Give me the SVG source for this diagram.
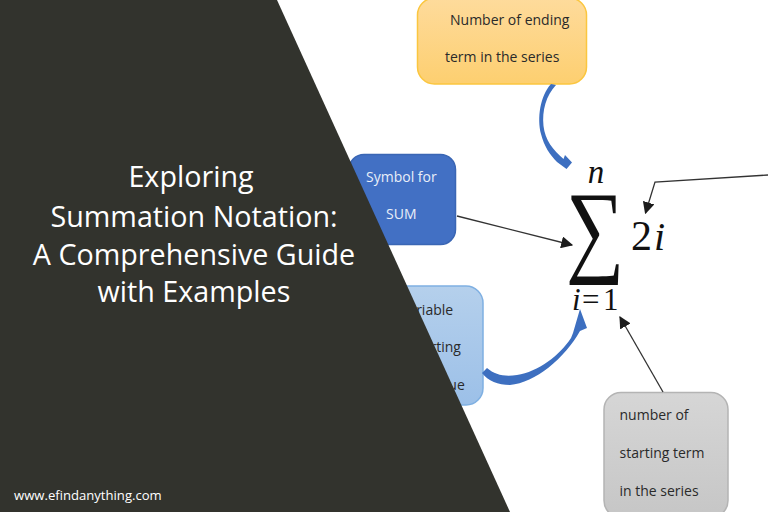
<svg xmlns="http://www.w3.org/2000/svg" width="768" height="512" viewBox="0 0 768 512">
<defs>
<linearGradient id="orange" x1="0" y1="0" x2="0" y2="1"><stop offset="0" stop-color="#fedb9c"/><stop offset="1" stop-color="#fdcf70"/></linearGradient>
<linearGradient id="lblue" x1="0" y1="0" x2="0" y2="1"><stop offset="0" stop-color="#b5d0ec"/><stop offset="1" stop-color="#9cc0e8"/></linearGradient>
<linearGradient id="grey" x1="0" y1="0" x2="0" y2="1"><stop offset="0" stop-color="#d6d6d6"/><stop offset="1" stop-color="#c6c6c6"/></linearGradient>
<marker id="arr" viewBox="0 0 10 10" refX="9" refY="5" markerWidth="12" markerHeight="12" markerUnits="userSpaceOnUse" orient="auto"><path d="M0 0L10 5L0 10Z" fill="#1c1c1c"/></marker>
</defs>
<style>
text{font-family:"Open Sans","Noto Sans",sans-serif}
.l{font-size:14px;fill:#2a2a2a}
.w{font-size:14px;fill:#e8eef8}
.m{font-family:"Liberation Serif","DejaVu Serif",serif;fill:#111}
.c{fill:none;stroke:#333;stroke-width:1.300}
.t{font-size:28.700px;fill:#fff;text-anchor:middle}
</style>
<rect width="768" height="512" fill="#fff"/>
<g id="node-ending">
<rect x="417.500" y="-2" width="169" height="86" rx="17" fill="url(#orange)" stroke="#fbc63f" stroke-width="1.500"/>
<text class="l" x="450" y="25">Number of ending</text>
<text class="l" x="445" y="62">term in the series</text>
</g>
<g id="node-symbol">
<rect x="349" y="154.500" width="106.500" height="90" rx="15" fill="#4270c4" stroke="#3a66b4" stroke-width="1.500"/>
<text class="w" x="366" y="182">Symbol for</text>
<text class="w" x="386" y="219">SUM</text>
</g>
<g id="node-variable">
<rect x="360" y="286" width="123" height="119" rx="17" fill="url(#lblue)" stroke="#7fb0e2" stroke-width="1.500"/>
<text class="l" x="400" y="315">Variable</text>
<text class="l" x="411" y="352">starting</text>
<text class="l" x="430" y="390">value</text>
</g>
<g id="node-starting">
<rect x="604" y="392.500" width="124" height="125" rx="17" fill="url(#grey)" stroke="#b4b4b4" stroke-width="1.500"/>
<text class="l" x="619.500" y="420">number of</text>
<text class="l" x="619.500" y="458">starting term</text>
<text class="l" x="619.500" y="496">in the series</text>
</g>
<g id="formula">
<text class="m" text-anchor="middle" font-size="100" transform="translate(595 263) scale(0.82 1.030)">∑</text>
<text class="m" x="596" y="183" text-anchor="middle" font-size="33" font-style="italic">n</text>
<text class="m" x="631" y="250" font-size="42">2</text>
<text class="m" x="654" y="250" font-size="40" font-style="italic">i</text>
<text class="m" x="572" y="310" font-size="31" font-style="italic">i</text>
<text class="m" x="582" y="310" font-size="31">=</text>
<text class="m" x="603" y="310" font-size="31">1</text>
</g>
<g id="connectors">
<path d="M457 216L572 245" class="c" marker-end="url(#arr)"/>
<path d="M768 175L655 182L645.500 213" class="c" marker-end="url(#arr)"/>
<path d="M663 392L620 317" class="c" marker-end="url(#arr)"/>
<path d="M556 85L551 84C540 96 537 118 541 134C544 146 550 155 557 162L566.500 169L572 162.500L565 155L563.500 159C553 150 545 140 543.500 126C542 110 546 96 556 85Z" fill="#3d6fc0"/>
<path d="M482 373L487 368C495 375 505 377 517 375C538 372 560 355 571 338L573 333L580 309L587 328L580 331C565 358 535 383 510 385C498 385 488 381 482 373Z" fill="#3d6fc0"/>
</g>
<g id="banner">
<polygon points="0,0 277,0 510,512 0,512" fill="#32332d"/>
<text class="t" x="191" y="187">Exploring</text>
<text class="t" x="194" y="227">Summation Notation:</text>
<text class="t" x="194" y="265">A Comprehensive Guide</text>
<text class="t" x="194" y="302">with Examples</text>
<text x="14" y="500" font-size="13.100" fill="#fff">www.efindanything.com</text>
</g>
</svg>
